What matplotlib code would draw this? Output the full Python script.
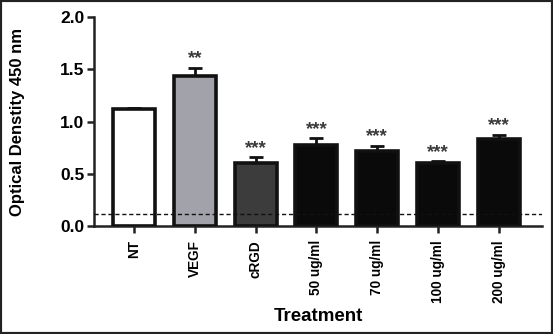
import matplotlib
matplotlib.use("Agg")
import matplotlib.pyplot as plt
from matplotlib.patches import Rectangle

categories = ["NT", "VEGF", "cRGD", "50 ug/ml", "70 ug/ml", "100 ug/ml", "200 ug/ml"]
values = [1.12, 1.435, 0.60, 0.775, 0.72, 0.605, 0.83]
errors = [0.01, 0.08, 0.06, 0.065, 0.05, 0.015, 0.045]
stars = ["", "**", "***", "***", "***", "***", "***"]
baseline = 0.12
yticks = [0.0, 0.5, 1.0, 1.5, 2.0]

plt.rcParams['font.family'] = ['Liberation Sans', 'DejaVu Sans']
plt.rcParams['font.weight'] = 'bold'

fig = plt.figure(figsize=(5.53, 3.34), dpi=100)
ax = fig.add_axes([0.170, 0.323, 0.810, 0.626])

colors = ["#ffffff", "#a2a2aa", "#3c3c3c", "#0a0a0a", "#0a0a0a", "#0a0a0a", "#0a0a0a"]
x = list(range(len(categories)))
ax.bar(x, values, width=0.69, color=colors, edgecolor="#111111", linewidth=2.6, zorder=3)
ax.errorbar(x, values, yerr=[[0]*len(values), errors], fmt="none", ecolor="#111111",
            elinewidth=2, capsize=5, capthick=2, zorder=2)
for xi, v, e, s in zip(x, values, errors, stars):
    if s:
        ax.text(xi, v + e + 0.005, s, ha="center", va="bottom", fontsize=13.5,
                color="#3a3a3a", fontweight="bold")

ax.axhline(baseline, color="#111111", linestyle=(0, (3, 2)), linewidth=1, zorder=4)

ax.set_xlim(-0.66, 6.71)
ax.set_ylim(0, 2.0)
ax.set_yticks(yticks)
ax.set_yticklabels([f"{t:.1f}" for t in yticks], fontsize=12.5, fontweight="bold")
ax.set_xticks(x)
ax.set_xticklabels(categories, rotation=90, fontsize=9.8, fontweight="bold")
for sp in ["top", "right"]:
    ax.spines[sp].set_visible(False)
for sp in ["left", "bottom"]:
    ax.spines[sp].set_linewidth(1.8)
    ax.spines[sp].set_color("#222222")
ax.tick_params(axis="both", width=1.8, length=5, color="#222222", pad=2)
ax.tick_params(axis="x", pad=5)
ax.set_ylabel("Optical Denstity 450 nm", fontsize=12, fontweight="bold")
ax.yaxis.set_label_coords(-0.155, 0.5)
ax.set_xlabel("Treatment", fontsize=13.5, fontweight="bold", labelpad=4)

fig.patches.append(Rectangle((0, 0), 1, 1, transform=fig.transFigure, fill=False,
                             edgecolor="#222222", linewidth=3))
fig.savefig("out.png", dpi=100)
